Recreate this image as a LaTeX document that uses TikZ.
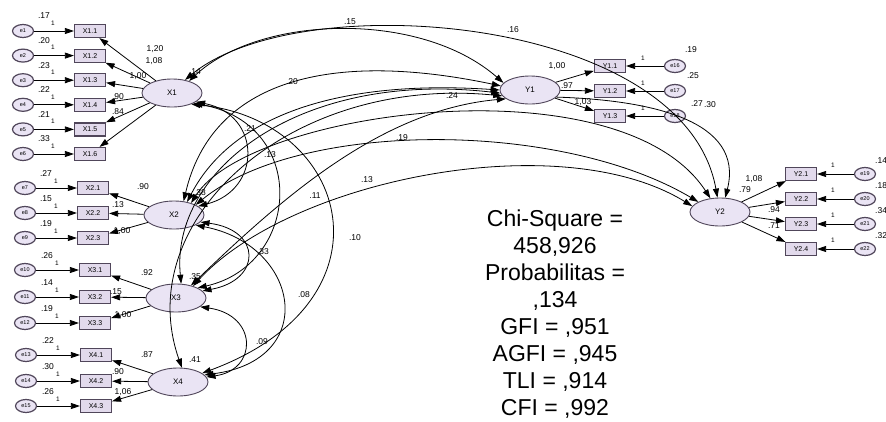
\documentclass[tikz,border=0pt]{standalone}
\usepackage{fontspec}
\setmainfont{Liberation Sans}
\usetikzlibrary{arrows.meta,shapes.geometric}
\definecolor{lav}{RGB}{234,228,244}
\definecolor{boxf}{RGB}{226,218,236}
\definecolor{edgec}{RGB}{80,70,90}
\begin{document}
\begin{tikzpicture}[x=1pt,y=-1pt,
 >={Triangle[length=9pt,width=6pt]},
 lat/.style={ellipse,draw=edgec,line width=0.9pt,fill=lav,minimum width=60pt,minimum height=28pt,inner sep=0pt,font=\fontsize{8}{9}\selectfont},
 ind/.style={rectangle,draw=edgec,line width=1.2pt,fill=boxf,minimum width=31pt,minimum height=13pt,inner sep=0pt,font=\fontsize{7}{8}\selectfont},
 err/.style={ellipse,draw=edgec,line width=1.2pt,fill=lav,minimum width=21pt,minimum height=13pt,inner sep=0pt,font=\fontsize{5.5}{6}\selectfont},
 lbl/.style={inner sep=0pt,font=\fontsize{8.5}{9}\selectfont},
 one/.style={inner sep=0pt,font=\fontsize{6.5}{7}\selectfont},
 arr/.style={->,line width=0.8pt},
 cov/.style={<->,line width=0.8pt}]
\fill[white] (0,0) rectangle (886,421);
\useasboundingbox (0,0) rectangle (886,421);

% latent variables
\node[lat] (X1) at (172,93) {X1};
\node[lat] (X2) at (174,215) {X2};
\node[lat] (X3) at (176,298) {X3};
\node[lat] (X4) at (178,382) {X4};
\node[lat] (Y1) at (530,90) {Y1};
\node[lat] (Y2) at (720,212) {Y2};

% X1 indicators
\foreach \k/\y/\v in {1/31/.17,2/55.6/.20,3/80.2/.23,4/104.8/.22,5/129.4/.21,6/154/.33}{
  \node[ind] (X1\k) at (90,\y) {X1.\k};
  \node[err] (e\k) at (23,\y) {e\k};
  \draw[arr] (e\k) -- (X1\k);
  \draw[arr] (X1) -- (X1\k);
  \node[lbl] at (44,\y-15) {\v};
  \node[one] at (53,\y-8) {1};
}
% X2 indicators
\foreach \n/\k/\y/\v in {7/1/188/.27,8/2/213/.15,9/3/238/.19}{
  \node[ind] (X2\k) at (93,\y) {X2.\k};
  \node[err] (e\n) at (25,\y) {e\n};
  \draw[arr] (e\n) -- (X2\k);
  \draw[arr] (X2) -- (X2\k);
  \node[lbl] at (46,\y-14) {\v};
  \node[one] at (56,\y-7) {1};
}
% X3 indicators
\foreach \n/\k/\y/\v in {10/1/270/.26,11/2/297/.14,12/3/323/.19}{
  \node[ind] (X3\k) at (95,\y) {X3.\k};
  \node[err] (e\n) at (25,\y) {e\n};
  \draw[arr] (e\n) -- (X3\k);
  \draw[arr] (X3) -- (X3\k);
  \node[lbl] at (47,\y-14) {\v};
  \node[one] at (57,\y-7) {1};
}
% X4 indicators
\foreach \n/\k/\y/\v in {13/1/355/.22,14/2/381/.30,15/3/406/.26}{
  \node[ind] (X4\k) at (96,\y) {X4.\k};
  \node[err] (e\n) at (26,\y) {e\n};
  \draw[arr] (e\n) -- (X4\k);
  \draw[arr] (X4) -- (X4\k);
  \node[lbl] at (48,\y-14) {\v};
  \node[one] at (58,\y-7) {1};
}
% Y1 indicators
\foreach \n/\k/\y in {16/1/66,17/2/91,18/3/116}{
  \node[ind] (Y1\k) at (610,\y) {Y1.\k};
  \node[err] (e\n) at (675,\y) {e\n};
  \draw[arr] (e\n) -- (Y1\k);
  \draw[arr] (Y1) -- (Y1\k);
  \node[one] at (643,\y-8) {1};
}
\node[lbl] at (691,50) {.19};
\node[lbl] at (693,76) {.25};
\node[lbl] at (697,104) {.27};
\node[lbl] at (710,105) {.30};
% Y2 indicators
\foreach \n/\k/\y/\v in {19/1/174/.14,20/2/199/.18,21/3/224/.34,22/4/249/.32}{
  \node[ind] (Y2\k) at (801,\y) {Y2.\k};
  \node[err] (e\n) at (865,\y) {e\n};
  \draw[arr] (e\n) -- (Y2\k);
  \draw[arr] (Y2) -- (Y2\k);
  \node[one] at (833,\y-9) {1};
  \node[lbl,anchor=west] at (875,\y-13) {\v};
}

% loadings
\node[lbl] at (155,49) {1,20};
\node[lbl] at (154,61) {1,08};
\node[lbl] at (138,76) {1,00};
\node[lbl] at (118,97) {.90};
\node[lbl] at (118,112) {.84};
\node[lbl] at (143,187) {.90};
\node[lbl] at (118,205) {.13};
\node[lbl] at (122,231) {1,00};
\node[lbl] at (147,273) {.92};
\node[lbl] at (116,292) {.15};
\node[lbl] at (123,315) {1,00};
\node[lbl] at (147,355) {.87};
\node[lbl] at (118,372) {.90};
\node[lbl] at (123,392) {1,06};
\node[lbl] at (557,66) {1,00};
\node[lbl] at (567,86) {.97};
\node[lbl] at (583,102) {1,03};
\node[lbl] at (754,179) {1,08};
\node[lbl] at (745,190) {.79};
\node[lbl] at (774,210) {.94};
\node[lbl] at (774,226) {.71};

% latent variances
\node[lbl] at (195,72) {.14};
\node[lbl] at (200,193) {.38};
\node[lbl] at (195,277) {.35};
\node[lbl] at (195,360) {.41};

% structural paths / covariances
\draw[cov] (X1.35) .. controls (260,15) and (420,10) .. (Y1.165);
\draw[cov] (X1.45) .. controls (300,-15) and (685,15) .. (Y2.100);
\draw[cov] (X2.55) .. controls (212,80) and (330,50) .. (Y1.172);
\draw[cov] (X2.45) .. controls (235,110) and (350,80) .. (Y1.180);
\draw[cov] (X3.70) .. controls (170,170) and (300,70) .. (Y1.186);
\draw[cov] (X4.75) .. controls (130,220) and (290,75) .. (Y1.192);
\draw[cov] (X3.40) .. controls (280,200) and (380,110) .. (Y1.200);
\draw[cov] (X2.35) .. controls (250,110) and (620,60) .. (Y2.125);
\draw[cov] (X2.25) .. controls (300,120) and (560,120) .. (Y2.155);
\draw[cov] (X3.35) .. controls (290,180) and (560,125) .. (Y2.168);
\draw[arr] (Y1.-15) .. controls (650,100) and (745,120) .. (Y2.70);
\draw[cov] (X1.-20) .. controls (262,115) and (262,190) .. (X2.20);
\draw[cov] (X1.-25) .. controls (310,125) and (300,265) .. (X3.25);
\draw[cov] (X1.-30) .. controls (350,120) and (400,300) .. (X4.20);
\draw[cov] (X2.-15) .. controls (262,230) and (262,280) .. (X3.15);
\draw[cov] (X2.-25) .. controls (300,245) and (320,360) .. (X4.15);
\draw[cov] (X3.-20) .. controls (258,315) and (258,370) .. (X4.10);

\node[lbl] at (350,22) {.15};
\node[lbl] at (513,30) {.16};
\node[lbl] at (292,82) {.20};
\node[lbl] at (452,96) {.24};
\node[lbl] at (402,138) {.19};
\node[lbl] at (367,180) {.13};
\node[lbl] at (315,196) {.11};
\node[lbl] at (250,129) {.21};
\node[lbl] at (270,155) {.13};
\node[lbl] at (355,238) {.10};
\node[lbl] at (263,252) {.33};
\node[lbl] at (304,295) {.08};
\node[lbl] at (262,342) {.09};

% fit statistics
\node[align=center,inner sep=0pt,font=\fontsize{23}{27}\selectfont] (fit) at (555,314)
 {Chi-Square =\\458,926\\Probabilitas =\\,134\\GFI = ,951\\AGFI = ,945\\TLI = ,914\\CFI = ,992};
\end{tikzpicture}
\end{document}
